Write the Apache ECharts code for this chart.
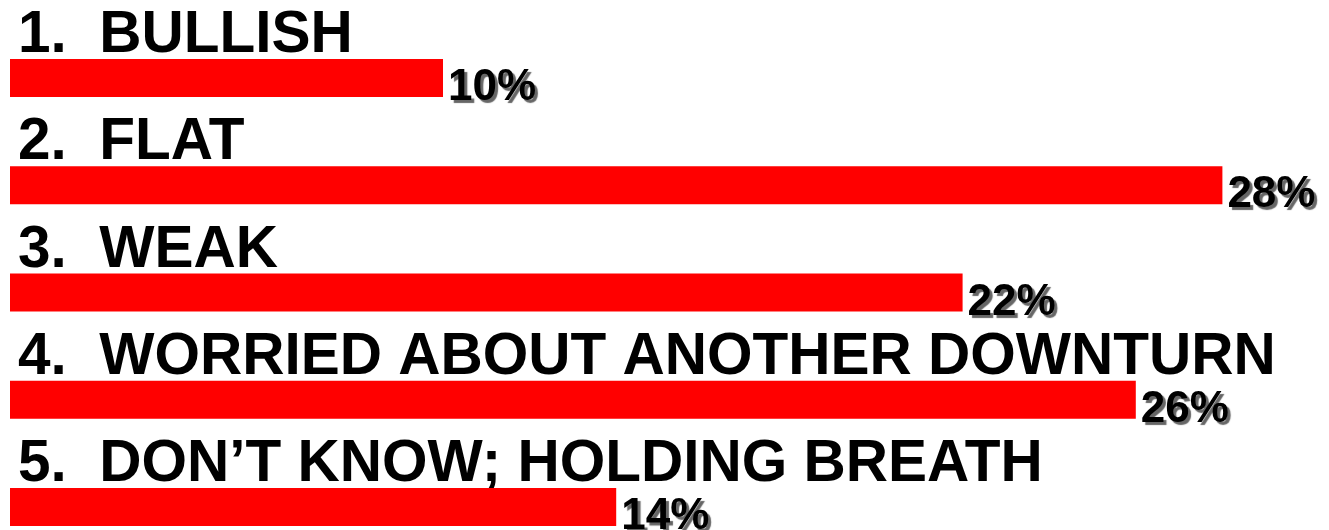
<!DOCTYPE html>
<html>
<head>
<meta charset="utf-8">
<script src="https://cdn.jsdelivr.net/npm/echarts@6/dist/echarts.min.js"></script>
<style>
    html, body {margin: 0; padding: 0; background: #fff;}
    #chart {width: 1329px; height: 530px;}
</style>
</head>
<body>
<div id="chart"></div>
<script>
    const categories = [
        '1.  BULLISH',
        '2.  FLAT',
        '3.  WEAK',
        '4.  WORRIED ABOUT ANOTHER DOWNTURN',
        '5.  DON\u2019T KNOW; HOLDING BREATH'
    ];
    const shares = [10, 28, 22, 26, 14];

    const chart = echarts.init(document.getElementById('chart'));

    const option = {
        animation: false,
        backgroundColor: '#ffffff',
        grid: {
            left: 10,
            right: 20,
            top: 78,
            bottom: 23,
            containLabel: false,
            outerBoundsMode: 'none'
        },
        xAxis: {
            type: 'value',
            min: 0,
            max: 30,
            show: false
        },
        yAxis: {
            type: 'category',
            data: categories,
            inverse: true,
            boundaryGap: false,
            axisLine: {show: false},
            axisTick: {show: false},
            splitLine: {show: false},
            axisLabel: {
                inside: true,
                interval: 0,
                showMinLabel: true,
                showMaxLabel: true,
                hideOverlap: false,
                margin: 8,
                align: 'left',
                verticalAlign: 'middle',
                // push the name up above its bar
                formatter: v => v + '\n ',
                lineHeight: 84,
                color: '#000',
                fontFamily: 'Liberation Sans, Arial, sans-serif',
                fontWeight: 'bold',
                fontSize: 58.5
            }
        },
        series: [
            {
                name: 'Share',
                type: 'bar',
                data: shares,
                barWidth: 38,
                itemStyle: {color: '#ff0000'},
                label: {
                    show: true,
                    position: 'right',
                    distance: 5,
                    offset: [0, 10],
                    formatter: '{c}%',
                    color: '#000',
                    fontFamily: 'Liberation Sans, Arial, sans-serif',
                    fontWeight: 'bold',
                    fontSize: 44,
                    textShadowColor: '#666',
                    textShadowOffsetX: 3,
                    textShadowOffsetY: 3,
                    textShadowBlur: 1
                }
            }
        ]
    };

    chart.setOption(option);
</script>
</body>
</html>
